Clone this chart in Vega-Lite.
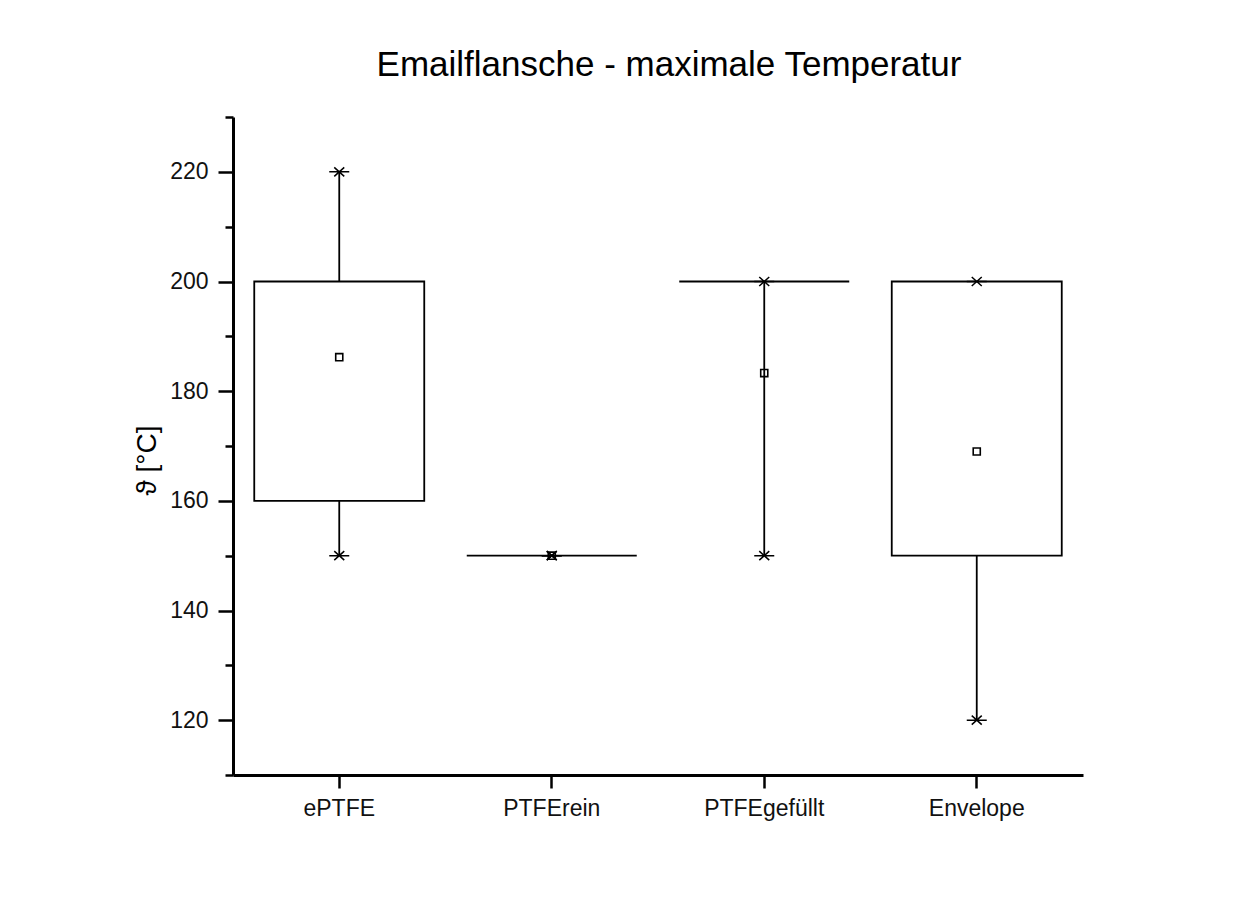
{
  "$schema": "https://vega.github.io/schema/vega-lite/v6.json",
  "width": 850,
  "height": 658,
  "autosize": {"type": "none"},
  "padding": {"left": 233, "top": 117, "right": 175, "bottom": 147},
  "background": "white",
  "title": {
    "text": "Emailflansche - maximale Temperatur",
    "font": "Liberation Sans",
    "fontSize": 35,
    "fontWeight": "normal",
    "color": "#000",
    "anchor": "middle",
    "dx": 11,
    "offset": 33
  },
  "data": {
    "values": [
      {"cat": "ePTFE", "min": 150, "q1": 160, "q3": 200, "max": 220, "mean": 186.2},
      {"cat": "PTFErein", "min": 150, "q1": 150, "q3": 150, "max": 150, "mean": 150},
      {"cat": "PTFEgefüllt", "min": 150, "q1": 200, "q3": 200, "max": 200, "mean": 183.3},
      {"cat": "Envelope", "min": 120, "q1": 150, "q3": 200, "max": 200, "mean": 169}
    ]
  },
  "encoding": {
    "x": {
      "field": "cat",
      "type": "nominal",
      "sort": ["ePTFE", "PTFErein", "PTFEgefüllt", "Envelope"],
      "scale": {"paddingInner": 0, "paddingOuter": 0},
      "axis": {
        "title": null,
        "labelAngle": 0,
        "labelFont": "Liberation Sans",
        "labelFontSize": 23,
        "labelColor": "#111",
        "labelPadding": 9,
        "tickSize": 13,
        "tickWidth": 2.5,
        "tickColor": "#000",
        "domainColor": "#000",
        "domainWidth": 3,
        "grid": false
      }
    }
  },
  "layer": [
    {
      "mark": {"type": "rule", "color": "#000", "strokeWidth": 1.8},
      "encoding": {
        "y": {
          "field": "min",
          "type": "quantitative",
          "scale": {"domain": [110, 230], "nice": false, "zero": false},
          "axis": {
            "title": "ϑ [°C]",
            "titleFont": "Liberation Sans",
            "titleFontSize": 28,
            "titleFontWeight": "normal",
            "titleColor": "#000",
            "titleX": -86,
            "titleY": 343,
            "titleAngle": 270,
            "titleAlign": "center",
            "titleBaseline": "middle",
            "values": [110, 120, 130, 140, 150, 160, 170, 180, 190, 200, 210, 220, 230],
            "labelExpr": "datum.value % 20 === 0 ? datum.label : ''",
            "labelFont": "Liberation Sans",
            "labelFontSize": 23,
            "labelColor": "#111",
            "labelPadding": 10,
            "tickSize": {"condition": {"test": "datum.value % 20 === 0", "value": 15}, "value": 8},
            "tickWidth": 2.5,
            "tickColor": "#000",
            "domainColor": "#000",
            "domainWidth": 3,
            "grid": false
          }
        },
        "y2": {"field": "max"}
      }
    },
    {
      "mark": {"type": "bar", "fill": "white", "stroke": "#000", "strokeWidth": 1.8, "width": {"band": 0.8}},
      "encoding": {
        "y": {"field": "q1", "type": "quantitative"},
        "y2": {"field": "q3"}
      }
    },
    {
      "mark": {"type": "point", "shape": "square", "size": 50, "filled": false, "stroke": "#000", "strokeWidth": 1.6, "opacity": 1},
      "encoding": {
        "y": {"field": "mean", "type": "quantitative"}
      }
    },
    {
      "mark": {"type": "point", "shape": "M-1,0H1M-0.5,-0.45L0.5,0.45M-0.5,0.45L0.5,-0.45", "size": 400, "filled": false, "stroke": "#000", "strokeWidth": 1.5, "opacity": 1},
      "encoding": {
        "y": {"field": "min", "type": "quantitative"}
      }
    },
    {
      "mark": {"type": "point", "shape": "M-1,0H1M-0.5,-0.45L0.5,0.45M-0.5,0.45L0.5,-0.45", "size": 400, "filled": false, "stroke": "#000", "strokeWidth": 1.5, "opacity": 1},
      "encoding": {
        "y": {"field": "max", "type": "quantitative"}
      }
    }
  ],
  "config": {
    "view": {"stroke": null}
  }
}
